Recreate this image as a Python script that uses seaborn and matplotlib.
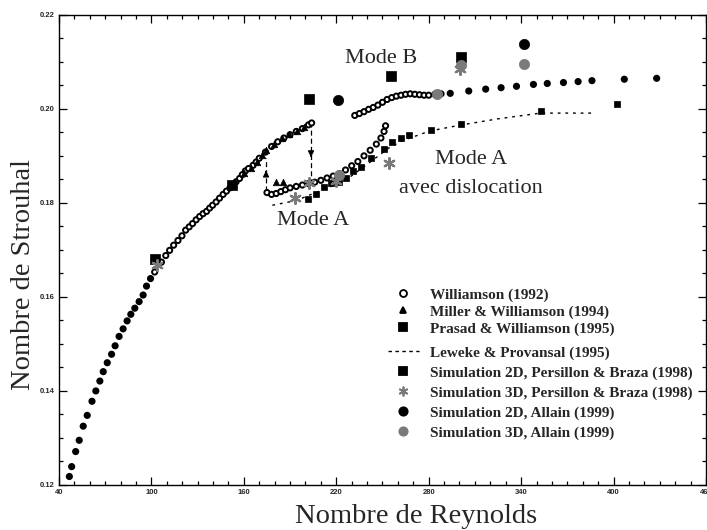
import matplotlib.pyplot as plt
import matplotlib.lines as mlines
from matplotlib.ticker import FixedLocator, MultipleLocator, FormatStrFormatter
import seaborn as sns

sns.set_theme(style="ticks")
plt.rcParams['font.family'] = ['Liberation Serif', 'DejaVu Serif']

# Williamson (1992) - cercles ouverts
williamson_re = [46.7, 48.2, 50.8, 53.1, 55.7, 58.3, 61.4, 63.9, 66.5, 68.7, 71.3, 74.1,
                 76.4, 79.0, 81.6, 84.2, 86.6, 89.2, 92.0, 94.6, 96.8, 99.4, 102.1, 106.5,
                 109.3, 111.8, 114.4, 117.2, 119.8, 122.2, 124.5, 126.7, 129.0, 131.3, 133.5,
                 135.8, 137.8, 139.7, 142.0, 144.2, 146.5, 148.7, 151.0, 153.0, 155.0, 157.2,
                 159.0, 161.0, 163.0, 166.0, 168.0, 170.0, 174.0, 178.0, 182.0, 186.0, 190.0,
                 194.0, 198.0, 202.0, 204.0,
                 175.0, 178.0, 181.0, 184.0, 187.0, 190.0, 194.0, 198.0, 202.0, 206.0, 210.0,
                 214.0, 218.0, 222.0, 226.0, 230.0, 234.0, 238.0, 242.0, 246.0, 249.0, 251.0, 252.0,
                 232.0, 235.0, 238.0, 241.0, 244.0, 247.0, 250.0, 253.0, 256.0, 259.0, 262.0,
                 265.0, 268.0, 271.0, 274.0, 277.0, 280.0, 284.0, 288.0, 294.0, 306.0, 317.0,
                 327.0, 337.0, 348.0, 357.0, 367.5, 377.0, 386.0, 407.0, 428.0]
williamson_st = [0.1218, 0.1239, 0.1271, 0.1295, 0.1325, 0.1348, 0.1378, 0.1400, 0.1421, 0.1441,
                 0.1460, 0.1478, 0.1496, 0.1516, 0.1532, 0.1549, 0.1563, 0.1576, 0.1590, 0.1604,
                 0.1623, 0.1639, 0.1653, 0.1674, 0.1688, 0.1699, 0.1710, 0.1720, 0.1730, 0.1742,
                 0.1749, 0.1756, 0.1764, 0.1771, 0.1777, 0.1782, 0.1789, 0.1795, 0.1802, 0.1810,
                 0.1818, 0.1825, 0.1832, 0.1838, 0.1845, 0.1852, 0.1860, 0.1868, 0.1873, 0.1880,
                 0.1887, 0.1895, 0.1908, 0.1920, 0.1930, 0.1938, 0.1945, 0.1952, 0.1958, 0.1966,
                 0.1970,
                 0.1822, 0.1818, 0.1820, 0.1824, 0.1828, 0.1832, 0.1835, 0.1838, 0.1841, 0.1844,
                 0.1848, 0.1853, 0.1857, 0.1862, 0.1870, 0.1879, 0.1888, 0.1900, 0.1912, 0.1925,
                 0.1938, 0.1952, 0.1964,
                 0.1986, 0.1990, 0.1994, 0.1999, 0.2003, 0.2008, 0.2014, 0.2020, 0.2024, 0.2027,
                 0.2029, 0.2031, 0.2032, 0.2031, 0.2030, 0.2029, 0.2029, 0.2031, 0.2032, 0.2033,
                 0.2038, 0.2042, 0.2045, 0.2048, 0.2052, 0.2054, 0.2056, 0.2058, 0.2060, 0.2063,
                 0.2065]

# Miller & Williamson (1994) - triangles
miller_re = [160.4, 164.9, 168.8, 172.0, 174.6, 179.8, 185.0, 189.5, 194.7, 199.2, 180.9, 185.2]
miller_st = [0.1863, 0.1874, 0.1887, 0.1902, 0.1912, 0.1925, 0.1938, 0.1946, 0.1953, 0.1961,
             0.1845, 0.1845]

# Prasad & Williamson (1995) - petits carres
prasad_re = [201.8, 206.8, 212.2, 216.5, 221.9, 226.2, 230.9, 235.9, 242.4, 251.0, 256.4,
             261.8, 267.2, 281.6, 301.0, 352.8, 402.5]
prasad_st = [0.1808, 0.1818, 0.1833, 0.1842, 0.1845, 0.1852, 0.1867, 0.1877, 0.1895, 0.1915,
             0.1929, 0.1939, 0.1945, 0.1954, 0.1968, 0.1996, 0.2010]

# Leweke & Provansal (1995) - tirets
leweke_re = [178.5, 194.0, 208.9, 225.1, 241.3, 254.2, 262.7, 280.8, 301.5, 325.4, 352.6, 385.6]
leweke_st = [0.1795, 0.1805, 0.1825, 0.1846, 0.1885, 0.1917, 0.1932, 0.1953, 0.1966, 0.1979,
             0.1991, 0.1991]

# Simulations
p2d_re = [102.1, 152.6, 202.5, 255.3, 301.2]
p2d_st = [0.1681, 0.1837, 0.2020, 0.2070, 0.2111]
p3d_re = [103.4, 193.4, 202.5, 219.9, 254.2, 300.2]
p3d_st = [0.1667, 0.1810, 0.1842, 0.1846, 0.1885, 0.2084]
a2d_re = [221.4, 341.6]
a2d_st = [0.2018, 0.2137]
a3d_re = [221.9, 285.3, 300.8, 341.6]
a3d_st = [0.1859, 0.2032, 0.2094, 0.2096]

labels = ['Williamson (1992)', 'Miller & Williamson (1994)', 'Prasad & Williamson (1995)',
          'Leweke & Provansal (1995)', 'Simulation 2D, Persillon & Braza (1998)',
          'Simulation 3D, Persillon & Braza (1998)', 'Simulation 2D, Allain (1999)',
          'Simulation 3D, Allain (1999)']
x_ticks = [40, 100, 160, 220, 280, 340, 400, 460]

grey = '#7a7a7a'

fig = plt.figure(figsize=(7.07, 5.30), dpi=100)
ax = fig.add_axes([0.0835, 0.085, 0.915, 0.887])

sns.lineplot(x=leweke_re, y=leweke_st, ax=ax, color='black', lw=1.0,
             linestyle=(0, (2.0, 3.5)), sort=False, zorder=2)
# les points les plus espaces apparaissent pleins sur le scan
fc = ['black' if (r < 100 or r > 290) else 'white' for r in williamson_re]
ax.scatter(williamson_re, williamson_st, marker='o', s=14, facecolors=fc,
           edgecolors='black', linewidths=1.4, zorder=3)
sns.scatterplot(x=miller_re, y=miller_st, ax=ax, marker='^', s=22, color='black',
                edgecolor='black', linewidth=0.5, zorder=3)
sns.scatterplot(x=prasad_re, y=prasad_st, ax=ax, marker='s', s=20, color='black',
                edgecolor='black', linewidth=0.5, zorder=3)
sns.scatterplot(x=p2d_re, y=p2d_st, ax=ax, marker='s', s=55, color='black',
                edgecolor='black', linewidth=0.5, zorder=4)
sns.scatterplot(x=p3d_re, y=p3d_st, ax=ax, marker=(6, 2, 0), s=60, color=grey,
                linewidth=1.6, zorder=4)
sns.scatterplot(x=a2d_re, y=a2d_st, ax=ax, marker='o', s=55, color='black',
                edgecolor='black', linewidth=0.5, zorder=4)
sns.scatterplot(x=a3d_re, y=a3d_st, ax=ax, marker='o', s=55, color=grey,
                edgecolor=grey, linewidth=0.5, zorder=4)

# fleches d'hysteresis
for re, st0, st1 in [(174.4, 0.1826, 0.1895), (203.6, 0.1973, 0.1841)]:
    ax.plot([re, re], [st0, st1], color='black', lw=0.9, linestyle=(0, (4, 2.5)), zorder=2)
    mid = (st0 + st1) / 2
    ax.annotate('', xy=(re, mid + (st1 - st0) * 0.12), xytext=(re, mid),
                arrowprops=dict(arrowstyle='-|>', color='black', lw=0.9, mutation_scale=9))

# textes
ax.text(249.4, 0.2107, 'Mode B', fontsize=16, ha='center', va='center')
ax.text(205.2, 0.1763, 'Mode A', fontsize=16, ha='center', va='center')
ax.text(307.6, 0.1892, 'Mode A', fontsize=16, ha='center', va='center')
ax.text(307.6, 0.1831, 'avec dislocation', fontsize=16, ha='center', va='center')

ax.set_xlim(40, 460)
ax.set_ylim(0.12, 0.22)
ax.xaxis.set_major_locator(FixedLocator(x_ticks))
ax.xaxis.set_minor_locator(MultipleLocator(10))
ax.yaxis.set_major_locator(MultipleLocator(0.02))
ax.yaxis.set_minor_locator(MultipleLocator(0.005))
ax.yaxis.set_major_formatter(FormatStrFormatter('%.2f'))
ax.tick_params(which='both', direction='in', top=True, right=True, color='black', width=0.9)
ax.tick_params(which='major', length=6, pad=3)
ax.tick_params(which='minor', length=3)
for lab in ax.get_xticklabels() + ax.get_yticklabels():
    lab.set_fontfamily('Liberation Sans')
    lab.set_fontweight('bold')
    lab.set_fontsize(5.5)
for sp in ax.spines.values():
    sp.set_color('black')
    sp.set_linewidth(1.0)

ax.set_xlabel('Nombre de Reynolds', fontsize=20.5)
ax.set_ylabel('Nombre de Strouhal', fontsize=20.5)
ax.xaxis.set_label_coords(0.5526, -0.040)
ax.yaxis.set_label_coords(-0.035, 0.447)

# legende en deux blocs
def h(marker, color, ms, ls='none', mfc=None):
    return mlines.Line2D([], [], marker=marker, color=color, markersize=ms, linestyle=ls,
                         markerfacecolor=mfc if mfc else color, markeredgewidth=1.3)

handles1 = [h('o', 'black', 5, mfc='white'), h('^', 'black', 5), h('s', 'black', 6)]
handles2 = [mlines.Line2D([], [], color='black', lw=1.0, linestyle=(0, (2.5, 2.5))),
            h('s', 'black', 6), h((6, 2, 0), grey, 7), h('o', 'black', 6), h('o', grey, 6)]
leg_kw = dict(frameon=False, prop={'family': 'Liberation Serif', 'weight': 'bold', 'size': 11},
              handlelength=2.0, handletextpad=0.75, borderaxespad=0,
              borderpad=0, bbox_transform=fig.transFigure, loc='upper left')
leg1 = ax.legend(handles1, labels[:3], bbox_to_anchor=(388 / 707, 1 - 288 / 530),
                 labelspacing=0.21, **leg_kw)
ax.add_artist(leg1)
ax.legend(handles2, labels[3:], bbox_to_anchor=(388 / 707, 1 - 346 / 530),
          labelspacing=0.40, **leg_kw)

fig.savefig('out.png', dpi=100)
